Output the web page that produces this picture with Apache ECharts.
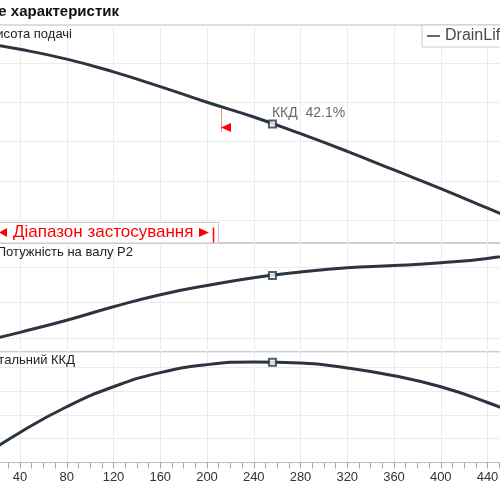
<!DOCTYPE html>
<html>
<head>
<meta charset="utf-8">
<script src="https://cdn.jsdelivr.net/npm/echarts@6/dist/echarts.min.js"></script>
<style>
  html, body { margin: 0; padding: 0; background: #fff; }
  #chart { width: 500px; height: 500px; }
</style>
</head>
<body>
<div id="chart"></div>
<script>
// flow (x) and the three curves
const flow = [0, 40, 80, 120, 160, 200, 240, 280, 320, 360, 400, 440, 480];
const head = [11.1, 10.7, 10.2, 9.55, 8.8, 8.0, 7.25, 6.4, 5.5, 4.55, 3.6, 2.6, 1.6];
const power = [0.92, 1.08, 1.25, 1.44, 1.61, 1.74, 1.85, 1.93, 1.99, 2.02, 2.06, 2.12, 2.22];
const efficiency = [0, 12.6, 23.4, 31.8, 37.75, 41.1, 42.2, 41.8, 39.7, 36.4, 31.8, 25.2, 17.6];

// horizontal grid lines of the upper two panels
const headGrid = [2, 4, 6, 8, 10];
const powerGrid = [1.0, 1.5, 2.0];

// duty point
const dutyFlow = 256;
const dutyHead = 6.9;
const dutyPower = 1.88;
const dutyEff = 42.1;
const dutyLabel = 'ККД  42.1%';

// end of application range
const rangeEnd = 212;
const rangeTop = 7.7;
const rangeBottom = 6.5;
const rangeArrow = 6.72;

const pumpName = 'DrainLift Con.2';
const lineColor = '#2b3540';
const gridColor = '#ebebeb';
const font = '"Liberation Sans", Arial, sans-serif';

const chart = echarts.init(document.getElementById('chart'));

const pairs = (ys) => flow.map((q, i) => [q, ys[i]]);

const gridBase = {
  left: -26.75, width: 561, outerBoundsMode: 'none', containLabel: false,
  show: true, borderColor: '#bdbdbd', borderWidth: 1
};

const xAxisFor = (i) => ({
  type: 'value',
  gridIndex: i,
  min: 0,
  max: 480,
  interval: 40,
  axisLine: {show: i === 2, lineStyle: {color: '#bdbdbd'}},
  axisTick: {show: i === 2, length: 6, lineStyle: {color: '#aaa'}},
  minorTick: {show: i === 2, splitNumber: 4, length: 6, lineStyle: {color: '#aaa'}},
  axisLabel: {show: i === 2, fontSize: 13, color: '#333', margin: 8, fontFamily: font},
  splitLine: {show: true, lineStyle: {color: gridColor}}
});

const yAxisFor = (i, min, max, split) => ({
  type: 'value',
  gridIndex: i,
  min: min,
  max: max,
  interval: split ? 10 : undefined,
  axisLine: {show: false},
  axisTick: {show: false},
  axisLabel: {show: false},
  splitLine: {show: split, lineStyle: {color: gridColor}}
});

const gridLines = (i, values) => ({
  type: 'line',
  xAxisIndex: i,
  yAxisIndex: i,
  data: [],
  z: 1,
  silent: true,
  markLine: {
    z: 1,
    silent: true,
    symbol: ['none', 'none'],
    label: {show: false},
    lineStyle: {color: gridColor, width: 1, type: 'solid'},
    data: values.map(v => ({yAxis: v}))
  }
});

const curve = (i, ys) => ({
  name: pumpName,
  type: 'line',
  xAxisIndex: i,
  yAxisIndex: i,
  data: pairs(ys),
  smooth: true,
  showSymbol: false,
  z: 3,
  color: lineColor,
  lineStyle: {color: lineColor, width: 3}
});

const duty = (i, y, label) => ({
  name: 'duty',
  type: 'scatter',
  xAxisIndex: i,
  yAxisIndex: i,
  data: [[dutyFlow, y]],
  symbol: 'rect',
  symbolSize: 7,
  z: 6,
  itemStyle: {color: '#fff', borderColor: lineColor, borderWidth: 2},
  label: label ? {
    show: true,
    formatter: label,
    position: [4, -6],
    align: 'left',
    verticalAlign: 'middle',
    fontSize: 14,
    color: '#444',
    fontFamily: font
  } : {show: false}
});

const headCurve = curve(0, head);
headCurve.markLine = {
  silent: true,
  symbol: ['none', 'none'],
  label: {show: false},
  lineStyle: {color: '#ff8a8a', width: 1, type: 'solid'},
  data: [[{coord: [rangeEnd, rangeTop]}, {coord: [rangeEnd, rangeBottom]}]]
};
headCurve.markPoint = {
  silent: true,
  symbol: 'triangle',
  symbolSize: [9, 10],
  symbolRotate: 90,
  symbolOffset: [5, 0],
  itemStyle: {color: '#ff0000'},
  label: {show: false},
  data: [{coord: [rangeEnd, rangeArrow]}]
};

const text = (str, x, y, opts) => Object.assign({
  type: 'text',
  x: x,
  y: y,
  z: 50,
  style: Object.assign({
    text: str,
    fill: '#222',
    font: '13px ' + font,
    align: 'right',
    verticalAlign: 'middle'
  }, opts || {})
});

const option = {
  animation: false,
  backgroundColor: '#fff',
  textStyle: {fontFamily: font},
  grid: [
    Object.assign({top: 25, height: 218}, gridBase),
    Object.assign({top: 243, height: 109}, gridBase),
    Object.assign({top: 352, height: 110.5}, gridBase)
  ],
  xAxis: [xAxisFor(0), xAxisFor(1), xAxisFor(2)],
  yAxis: [
    yAxisFor(0, 0.828, 11.94, false),
    yAxisFor(1, 0.803, 2.338, false),
    yAxisFor(2, 0, 46.4, true)
  ],
  legend: {
    data: [{name: pumpName, icon: 'rect'}],
    left: 422,
    top: 25,
    itemWidth: 13,
    itemHeight: 1.5,
    padding: [3, 6, 3, 5],
    borderColor: '#cccccc',
    borderWidth: 1,
    backgroundColor: '#fff',
    z: 60,
    textStyle: {fontSize: 16, color: '#4a4a4a', fontFamily: font}
  },
  series: [
    gridLines(0, headGrid),
    gridLines(1, powerGrid),
    headCurve,
    curve(1, power),
    curve(2, efficiency),
    duty(0, dutyHead, dutyLabel),
    duty(1, dutyPower),
    duty(2, dutyEff)
  ],
  graphic: [
    text('Загальне поле характеристик', 119, 12, {font: 'bold 15px ' + font, fill: '#111'}),
    text('Висота подачі', 72, 34),
    text('Потужність на валу P2', 133, 252),
    text('Тотальний ККД', 75, 360),
    {
      type: 'rect',
      z: 40,
      shape: {x: -10, y: 222.5, width: 228.5, height: 20.5},
      style: {fill: '#fff', stroke: '#c8c8c8', lineWidth: 1}
    },
    {
      type: 'polygon',
      z: 45,
      shape: {points: [[-1, 232.5], [7, 228], [7, 237]]},
      style: {fill: '#ff0000'}
    },
    text('Діапазон застосування', 13, 232.5, {font: '17px ' + font, fill: '#ff0000', align: 'left'}),
    {
      type: 'polygon',
      z: 45,
      shape: {points: [[199, 228], [199, 237], [209, 232.5]]},
      style: {fill: '#ff0000'}
    },
    {
      type: 'line',
      z: 45,
      shape: {x1: 213.5, y1: 227.5, x2: 213.5, y2: 242.5},
      style: {stroke: '#ff0000', lineWidth: 1.5}
    }
  ]
};

chart.setOption(option);
</script>
</body>
</html>
